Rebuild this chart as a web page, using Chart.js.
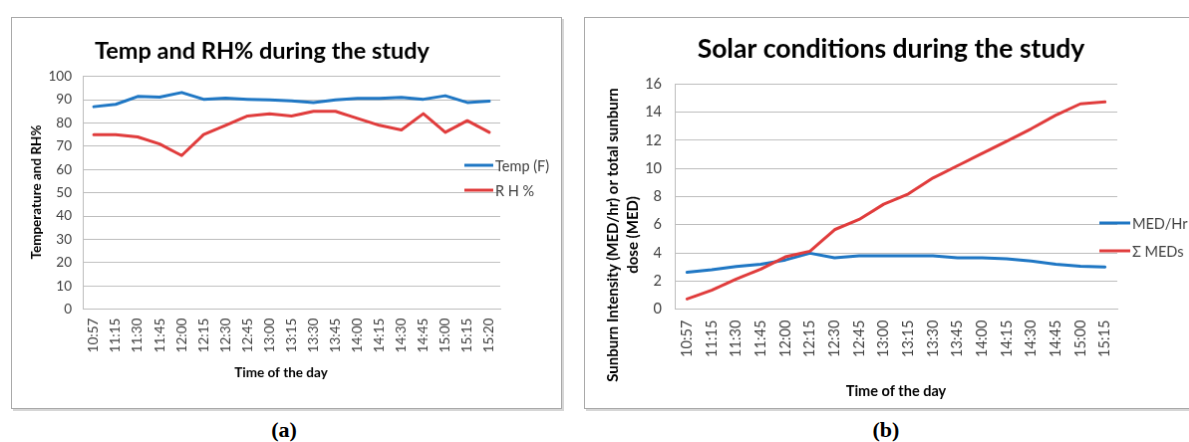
<!DOCTYPE html>
<html>
<head>
<meta charset="utf-8">
<script src="https://cdn.jsdelivr.net/npm/chart.js@4.4.1/dist/chart.umd.min.js"></script>
<style>
  html, body { margin: 0; padding: 0; background: #fff; }
  body { position: relative; width: 1189px; height: 442px; overflow: hidden; }
  canvas.panel { position: absolute; border: 1px solid #a9a9a9; box-shadow: 2px 2px 0 #d6d6d6; background: #fff; }
  #chartA { left: 11px; top: 17px; }
  #chartB { left: 584px; top: 17px; }
  .caption { position: absolute; top: 417px; width: 80px; text-align: center;
             font: bold 22px "Liberation Serif", "DejaVu Serif", serif; color: #000; }
</style>
</head>
<body>
<canvas id="chartA" class="panel" width="551" height="392"></canvas>
<canvas id="chartB" class="panel" width="620" height="392"></canvas>
<div class="caption" style="left:244px">(a)</div>
<div class="caption" style="left:846px">(b)</div>

<script>
// ---- Panel (a): temperature and relative humidity ----
const timesA = ['10:57','11:15','11:30','11:45','12:00','12:15','12:30','12:45','13:00','13:15',
                '13:30','13:45','14:00','14:15','14:30','14:45','15:00','15:15','15:20'];
const tempF = [87.0, 88.0, 91.4, 91.1, 93.1, 90.2, 90.7, 90.2, 89.9, 89.5,
               88.8, 89.9, 90.6, 90.6, 91.0, 90.2, 91.7, 88.8, 89.4];
const rhPct = [75, 75, 74, 71, 66, 75, 79, 83, 84, 83,
               85, 85, 82, 79, 77, 84, 76, 81, 76];

// ---- Panel (b): solar conditions ----
const timesB = ['10:57','11:15','11:30','11:45','12:00','12:15','12:30','12:45','13:00','13:15',
                '13:30','13:45','14:00','14:15','14:30','14:45','15:00','15:15'];
const medPerHr = [2.63, 2.80, 3.03, 3.20, 3.50, 3.98, 3.65, 3.79, 3.79, 3.79,
                  3.79, 3.65, 3.65, 3.58, 3.42, 3.20, 3.05, 3.00];
const medTotal = [0.73, 1.35, 2.14, 2.85, 3.72, 4.12, 5.65, 6.38, 7.46, 8.19,
                  9.32, 10.19, 11.06, 11.93, 12.82, 13.79, 14.59, 14.73];

const BLUE = '#1f77c4';
const RED = '#e03c3c';
const GRID = '#bdbdbd';
const TICK = '#404040';
const SANS = 'Lato, "Open Sans", "Liberation Sans", sans-serif';

// Draws the chart title, axis titles and the line legend at fixed spots.
const panelText = {
  id: 'panelText',
  afterDraw(chart, args, o) {
    const ctx = chart.ctx;
    ctx.save();
    ctx.fillStyle = '#000';
    ctx.textBaseline = 'middle';

    ctx.font = o.title.font;
    ctx.textAlign = 'center';
    ctx.fillText(o.title.text, o.title.x, o.title.y);

    ctx.font = o.xTitle.font;
    ctx.fillText(o.xTitle.text, o.xTitle.x, o.xTitle.y);

    ctx.font = o.yTitle.font;
    o.yTitle.lines.forEach((line, i) => {
      ctx.save();
      ctx.translate(o.yTitle.xs[i], o.yTitle.y);
      ctx.rotate(-Math.PI / 2);
      ctx.fillText(line, 0, 0);
      ctx.restore();
    });

    ctx.font = o.legend.font;
    ctx.textAlign = 'left';
    chart.data.datasets.forEach((ds, i) => {
      const y = o.legend.ys[i];
      ctx.strokeStyle = ds.borderColor;
      ctx.lineWidth = 3;
      ctx.beginPath();
      ctx.moveTo(o.legend.x1, y);
      ctx.lineTo(o.legend.x2, y);
      ctx.stroke();
      ctx.fillStyle = TICK;
      ctx.fillText(ds.label, o.legend.textX, y + 1);
    });
    ctx.restore();
  }
};

function lineSet(label, data, color, order) {
  return { label, data, borderColor: color, backgroundColor: color, borderWidth: 3,
           pointRadius: 0, tension: 0, borderJoinStyle: 'round', borderCapStyle: 'round', order };
}

function makeChart(id, cfg) {
  return new Chart(document.getElementById(id), {
    type: 'line',
    data: { labels: cfg.labels, datasets: cfg.datasets },
    options: {
      responsive: false,
      animation: false,
      devicePixelRatio: 1,
      layout: { padding: cfg.padding },
      plugins: { legend: { display: false }, title: { display: false }, tooltip: { enabled: false },
                 panelText: cfg.text },
      scales: {
        x: {
          offset: true,
          grid: { display: false, drawTicks: false },
          border: { display: true, color: GRID, width: 1 },
          ticks: { autoSkip: false, maxRotation: 90, minRotation: 90, padding: cfg.xPad,
                   color: TICK, font: { family: SANS, size: cfg.tickSize } },
          afterFit: s => { s.height = cfg.xHeight; }
        },
        y: {
          min: cfg.yMin, max: cfg.yMax,
          grid: { color: GRID, lineWidth: 1, drawTicks: false },
          border: { display: true, color: GRID, width: 1 },
          ticks: { stepSize: cfg.yStep, padding: cfg.yPad, color: TICK,
                   font: { family: SANS, size: cfg.tickSize } },
          afterFit: s => { s.width = cfg.yWidth; }
        }
      }
    },
    plugins: [panelText]
  });
}

makeChart('chartA', {
  labels: timesA,
  datasets: [lineSet('Temp (F)', tempF, BLUE, 1), lineSet('R H %', rhPct, RED, 0)],
  padding: { left: 0, top: 58.7, right: 61, bottom: 0 },
  yWidth: 71, xHeight: 99.3, xPad: 9, yPad: 11,
  yMin: 0, yMax: 100, yStep: 10, tickSize: 13.5,
  text: {
    title: { text: 'Temp and RH% during the study', x: 251, y: 33, font: `bold 23.5px ${SANS}` },
    xTitle: { text: 'Time of the day', x: 270, y: 357, font: `bold 13.5px ${SANS}` },
    yTitle: { lines: ['Temperature and RH%'], xs: [25], y: 175, font: `bold 13.5px ${SANS}` },
    legend: { x1: 454, x2: 483, textX: 485, ys: [148, 173], font: `14.5px ${SANS}` }
  }
});

makeChart('chartB', {
  labels: timesB,
  datasets: [lineSet('MED/Hr', medPerHr, BLUE, 1), lineSet('\u03A3 MEDs', medTotal, RED, 0)],
  padding: { left: 0, top: 66.3, right: 86, bottom: 0 },
  yWidth: 90, xHeight: 99.3, xPad: 11, yPad: 13,
  yMin: 0, yMax: 16, yStep: 2, tickSize: 14.5,
  text: {
    title: { text: 'Solar conditions during the study', x: 307, y: 31, font: `bold 26.5px ${SANS}` },
    xTitle: { text: 'Time of the day', x: 312, y: 375, font: `bold 14.5px ${SANS}` },
    yTitle: { lines: ['Sunburn Intensity (MED/hr) or total sunburn', 'dose (MED)'], xs: [28, 48], y: 218,
              font: `bold 15px ${SANS}` },
    legend: { x1: 516, x2: 547, textX: 549, ys: [206, 234], font: `14.5px ${SANS}` }
  }
});
</script>
</body>
</html>
